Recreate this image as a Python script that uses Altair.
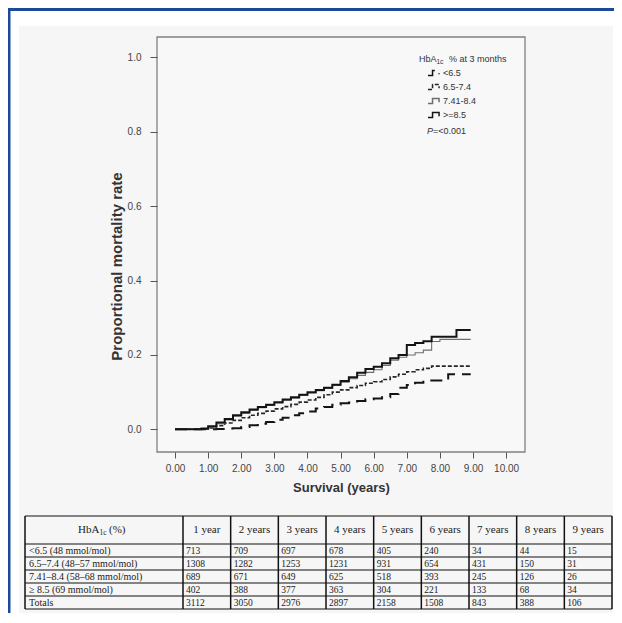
import altair as alt
import pandas as pd

# ---------------- data ----------------
groups = ["<6.5", "6.5-7.4", "7.41-8.4", ">=8.5"]

times = [0, 0.5, 0.8, 1.0, 1.25, 1.5, 1.75, 2.0, 2.25, 2.5, 2.75, 3.0, 3.25, 3.5,
         3.75, 4.0, 4.25, 4.5, 4.75, 5.0, 5.25, 5.5, 5.75, 6.0, 6.25, 6.5, 6.75,
         7.0, 7.25, 7.5, 7.75, 8.0, 8.25, 8.5, 8.75, 8.93]

rate_lt65 = [0, 0, 0, 0, 0.001, 0.002, 0.003, 0.006, 0.011, 0.015, 0.020, 0.026,
             0.031, 0.038, 0.043, 0.048, 0.056, 0.060, 0.066, 0.070, 0.072, 0.076,
             0.081, 0.083, 0.086, 0.095, 0.112, 0.119, 0.125, 0.131, 0.131, 0.131,
             0.148, 0.148, 0.148, 0.148]
rate_65_74 = [0, 0, 0.001, 0.004, 0.010, 0.017, 0.024, 0.031, 0.038, 0.043, 0.049,
              0.055, 0.061, 0.067, 0.073, 0.079, 0.086, 0.093, 0.100, 0.106, 0.112,
              0.118, 0.124, 0.128, 0.134, 0.141, 0.148, 0.155, 0.160, 0.164, 0.170,
              0.170, 0.170, 0.170, 0.170, 0.170]
rate_741_84 = [0, 0, 0.002, 0.006, 0.015, 0.025, 0.035, 0.043, 0.051, 0.058, 0.064,
               0.071, 0.078, 0.084, 0.091, 0.098, 0.104, 0.110, 0.118, 0.127, 0.136,
               0.145, 0.153, 0.160, 0.172, 0.186, 0.194, 0.200, 0.206, 0.213, 0.236,
               0.242, 0.242, 0.242, 0.242, 0.242]
rate_ge85 = [0, 0, 0.002, 0.008, 0.018, 0.028, 0.038, 0.046, 0.053, 0.060, 0.066,
             0.073, 0.080, 0.086, 0.093, 0.100, 0.106, 0.112, 0.120, 0.130, 0.140,
             0.152, 0.162, 0.168, 0.178, 0.191, 0.200, 0.227, 0.232, 0.237, 0.249,
             0.249, 0.249, 0.267, 0.267, 0.267]

x_ticks = [0, 1, 2, 3, 4, 5, 6, 7, 8, 9, 10]
y_ticks = [0.0, 0.2, 0.4, 0.6, 0.8, 1.0]

row_labels = ["<6.5 (48 mmol/mol)", "6.5\u20137.4 (48\u201357 mmol/mol)",
              "7.41\u20138.4 (58\u201368 mmol/mol)", "\u2265 8.5 (69 mmol/mol)", "Totals"]
col_labels = ["1 year", "2 years", "3 years", "4 years", "5 years", "6 years",
              "7 years", "8 years", "9 years"]
n_lt65 = [713, 709, 697, 678, 405, 240, 34, 44, 15]
n_65_74 = [1308, 1282, 1253, 1231, 931, 654, 431, 150, 31]
n_741_84 = [689, 671, 649, 625, 518, 393, 245, 126, 26]
n_ge85 = [402, 388, 377, 363, 304, 221, 133, 68, 34]
n_total = [3112, 3050, 2976, 2897, 2158, 1508, 843, 388, 106]

# ---------------- layout / style ----------------
PLOT_W, PLOT_H = 368, 415
SANS = "Liberation Sans"
SERIF = "Liberation Serif"
BLUE = "#1c4a99"
line_colors = ["#141414", "#262626", "#6e6e6e", "#141414"]
line_dashes = [[12, 7], [4, 2], [1, 0], [1, 0]]
line_widths = [2.0, 1.6, 1.1, 2.0]

# ---------------- tables ----------------
series = [rate_lt65, rate_65_74, rate_741_84, rate_ge85]
curve = pd.DataFrame(
    [{"group": g, "t": t, "rate": r}
     for g, vals in zip(groups, series) for t, r in zip(times, vals)]
)

counts = [n_lt65, n_65_74, n_741_84, n_ge85, n_total]
cells = pd.DataFrame(
    [{"c": ci + 1, "r": ri + 1.5, "v": str(v)}
     for ri, vals in enumerate(counts) for ci, v in enumerate(vals)]
)
rlabels = pd.DataFrame([{"c": 0, "r": ri + 1.5, "v": lab} for ri, lab in enumerate(row_labels)])
clabels = pd.DataFrame([{"c": ci + 1.5, "r": 0.5, "v": lab} for ci, lab in enumerate(col_labels)])
vedges = pd.DataFrame({"c": list(range(0, 11))})
hedges = pd.DataFrame({"r": list(range(0, 7))})
one = pd.DataFrame({"k": [0]})

# ---------------- decoration (page border + grey panel) ----------------
border_top = alt.Chart(one).mark_rule(color=BLUE, strokeWidth=3).encode(
    x=alt.value(-149.5), x2=alt.value(457), y=alt.value(-27.5))
border_left = alt.Chart(one).mark_rule(color=BLUE, strokeWidth=3).encode(
    x=alt.value(-148), y=alt.value(-29), y2=alt.value(578))
panel = alt.Chart(one).mark_rect(fill="#f6f6f6").encode(
    x=alt.value(-138), x2=alt.value(456), y=alt.value(-11), y2=alt.value(576))
deco = alt.layer(border_top, border_left, panel)

# ---------------- plot ----------------
xs = alt.Scale(domain=[-0.545, 10.57], nice=False, zero=False)
ys = alt.Scale(domain=[-0.061, 1.055], nice=False, zero=False)
x_axis = alt.Axis(values=x_ticks, format=".2f", title="Survival (years)", grid=False,
                  domain=False, tickSize=6, tickColor="#555", labelFont=SANS,
                  labelFontSize=10, labelColor="#444", labelPadding=5,
                  titleFont=SANS, titleFontSize=13, titleFontWeight="bold",
                  titleColor="#333", titlePadding=8, zindex=2)
y_axis = alt.Axis(values=y_ticks, format=".1f", title="Proportional mortality rate",
                  grid=False, domain=False, tickSize=7, tickColor="#555",
                  labelFont=SANS, labelFontSize=10, labelColor="#444", labelPadding=9,
                  titleFont=SANS, titleFontSize=15, titleFontWeight="bold",
                  titleColor="#333", titleX=-41, titleY=229, titleBaseline="middle",
                  titleAlign="center", zindex=2)

legend = alt.Legend(orient="none", legendX=270, legendY=28.5, title=None,
                    labelFont=SANS, labelFontSize=9, labelColor="#333", labelOffset=1,
                    symbolType="M-1,0.4H-0.3V-0.4H0.7V0.2", symbolSize=169,
                    symbolStrokeWidth=1.5, symbolFillColor="transparent",
                    rowPadding=0, padding=0)
color_scale = alt.Scale(domain=groups, range=line_colors)
dash_scale = alt.Scale(domain=groups, range=line_dashes)

frame = alt.Chart(one).mark_rect(fill="#f8f8f8", stroke="#808080", strokeWidth=1.3).encode(
    x=alt.value(0), x2=alt.value(PLOT_W), y=alt.value(0), y2=alt.value(PLOT_H))

lines = []
for g, w in zip(groups, line_widths):
    lines.append(
        alt.Chart(curve).transform_filter(alt.datum.group == g)
        .mark_line(interpolate="step-after", strokeWidth=w)
        .encode(
            x=alt.X("t:Q", scale=xs, axis=x_axis),
            y=alt.Y("rate:Q", scale=ys, axis=y_axis),
            color=alt.Color("group:N", scale=color_scale, legend=legend),
            strokeDash=alt.StrokeDash("group:N", scale=dash_scale, legend=legend),
        )
    )

def label(text, x, y, size=9, style="normal", baseline="middle", align="left", color="#333"):
    return alt.Chart(one).mark_text(text=text, font=SANS, fontSize=size, fontStyle=style,
                                    baseline=baseline, align=align, color=color).encode(
        x=alt.value(x), y=alt.value(y))

legend_title = [
    label("HbA", 262, 22),
    label("1c", 279.5, 25, size=6.5),
    label("% at 3 months", 292, 22),
]
pval = [label("P", 270, 94, style="italic"), label("=<0.001", 276, 94)]

plot = alt.layer(frame, *lines, *legend_title, *pval)

# ---------------- table ----------------
tx = alt.Scale(domain=[0, 1, 10], range=[-132, 26, 455], nice=False, zero=False)
ty = alt.Scale(domain=[0, 1, 6], range=[479, 507, 572], nice=False, zero=False)

hr = alt.Chart(hedges).mark_rule(color="#111", strokeWidth=1).encode(
    y=alt.Y("r:Q", scale=ty, axis=None),
    x=alt.X(datum=0, type="quantitative", scale=tx, axis=None),
    x2=alt.X2(datum=10))
vr = alt.Chart(vedges).mark_rule(color="#111", strokeWidth=1.5).encode(
    x=alt.X("c:Q", scale=tx, axis=None),
    y=alt.Y(datum=0, type="quantitative", scale=ty, axis=None),
    y2=alt.Y2(datum=6))

def ttext(df, size, align, dx):
    return alt.Chart(df).mark_text(font=SERIF, fontSize=size, align=align, dx=dx,
                                   baseline="middle", color="#222").encode(
        x=alt.X("c:Q", scale=tx, axis=None),
        y=alt.Y("r:Q", scale=ty, axis=None),
        text="v:N")

def head_part(text, size, dx, dy):
    return alt.Chart(one).mark_text(text=text, font=SERIF, fontSize=size, align="left",
                                    dx=dx, dy=dy, baseline="middle", color="#222").encode(
        x=alt.X(datum=0.5, type="quantitative", scale=tx, axis=None),
        y=alt.Y(datum=0.5, type="quantitative", scale=ty, axis=None))

table = alt.layer(
    hr, vr,
    ttext(cells, 9.5, "left", 3),
    ttext(rlabels, 10, "left", 4),
    ttext(clabels, 11, "center", 0),
    head_part("HbA", 11, -26, 0),
    head_part("1c", 7.5, -4.5, 3),
    head_part("(%)", 11, 5, 0),
)

chart = (
    alt.layer(deco, plot, table)
    .resolve_scale(x="independent", y="independent")
    .properties(width=PLOT_W, height=PLOT_H,
                autosize=alt.AutoSizeParams(type="none"),
                padding={"left": 149, "top": 29, "right": 89, "bottom": 161},
                background="white")
    .configure_view(stroke=None)
)

chart.save("out.html", embed_options={"renderer": "svg", "actions": False})
